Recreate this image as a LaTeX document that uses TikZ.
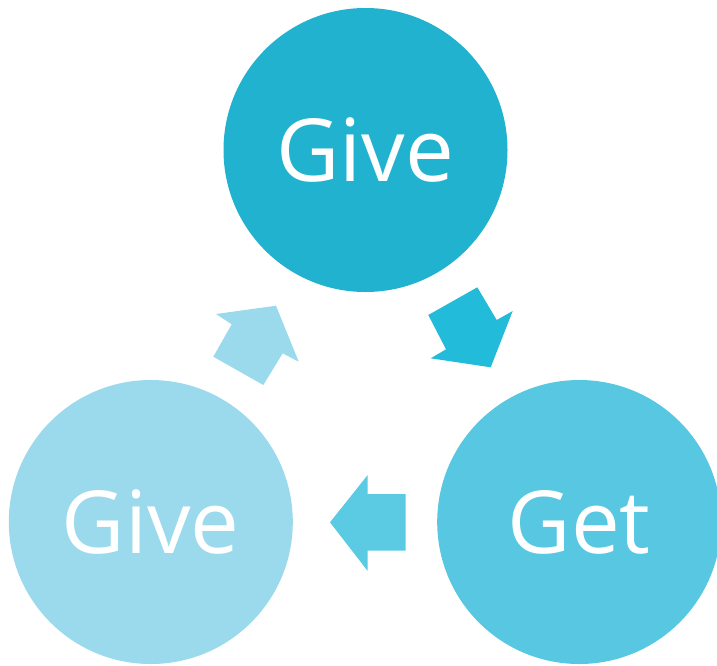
\documentclass[tikz,border=0pt]{standalone}
\usepackage{fontspec}
\setmainfont{Open Sans}
\definecolor{cTop}{HTML}{20B2CE}
\definecolor{cRight}{HTML}{58C7E1}
\definecolor{cLeft}{HTML}{9ADAEC}
\definecolor{aRight}{HTML}{22BBD9}
\definecolor{aLeft}{HTML}{5BCAE3}
\definecolor{aUp}{HTML}{9BDAEC}
\tikzset{
  bubble/.style={circle, minimum size=284pt, inner sep=0pt, text=white,
    font=\fontsize{87}{92}\selectfont},
  blockarrow/.style={draw=none}
}
\begin{document}
\begin{tikzpicture}[x=1pt,y=-1pt]
\useasboundingbox (0,0) rectangle (717,665);
\clip (0,0) rectangle (717,665);
\node[bubble, fill=cTop] (top) at (365.5,150) {Give};
\node[bubble, fill=cLeft] (left) at (150.8,522) {Give};
\node[bubble, fill=cRight] (right) at (579.2,522) {Get};
% arrow top -> right
\fill[aRight, blockarrow] (428.3,315) -- (477.3,287.3) -- (496.7,320) -- (512.7,311) -- (490.7,367.3) -- (430.7,358.3) -- (446,349.3) -- cycle;
% arrow right -> left
\fill[aLeft, blockarrow] (330,522.3) -- (367.7,475) -- (367.7,494) -- (405.7,494) -- (405.7,550.7) -- (367.7,550.7) -- (367.7,571) -- cycle;
% arrow left -> top
\fill[aUp, blockarrow] (216,314) -- (276,305.7) -- (298.7,361.7) -- (282.7,353.3) -- (263.3,385) -- (213.3,356.7) -- (231.7,324.3) -- cycle;
\end{tikzpicture}
\end{document}
